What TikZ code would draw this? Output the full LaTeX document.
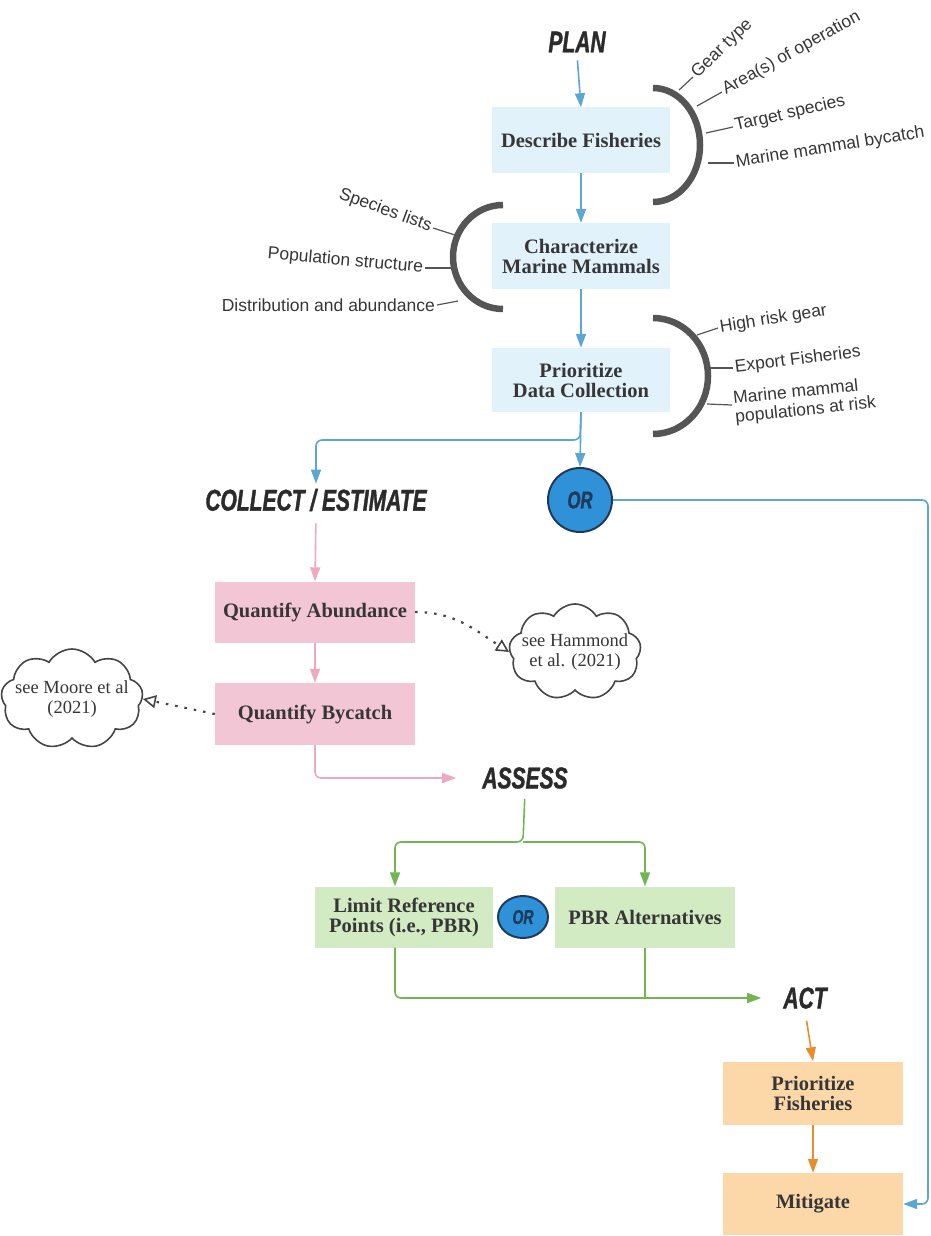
\documentclass[tikz,border=0pt]{standalone}
\usepackage{fontspec}
\setmainfont{Liberation Serif}
\newfontfamily\labelfont{Liberation Sans}
\newfontfamily\headfont[FakeStretch=0.7,FakeBold=1.2]{Liberation Sans}
\usetikzlibrary{arrows.meta,calc,shapes.geometric,shapes.symbols}

\definecolor{planblue}{HTML}{5BA7D3}
\definecolor{planfill}{HTML}{E1F2FA}
\definecolor{collectpink}{HTML}{EDA9C0}
\definecolor{collectfill}{HTML}{F3C6D5}
\definecolor{assessgreen}{HTML}{72B552}
\definecolor{assessfill}{HTML}{D2EBC3}
\definecolor{actorange}{HTML}{E98E2E}
\definecolor{actfill}{HTML}{FCD8A9}
\definecolor{bracketgray}{HTML}{555555}
\definecolor{textgray}{HTML}{363636}
\definecolor{headgray}{HTML}{2B2B2B}
\definecolor{orfill}{HTML}{2F92D8}
\definecolor{ordraw}{HTML}{1E3A5C}
\definecolor{cloudgray}{HTML}{454545}

\tikzset{
  stagebox/.style={minimum width=178pt, minimum height=64pt, inner sep=2pt, align=center, text=textgray, font=\fontsize{20.5}{20}\selectfont\bfseries},
  planbox/.style={stagebox, fill=planfill},
  collectbox/.style={stagebox, fill=collectfill, minimum width=200pt, minimum height=62pt},
  assessbox/.style={stagebox, fill=assessfill},
  actbox/.style={stagebox, fill=actfill, minimum width=180pt, minimum height=62pt},
  heading/.style={font=\headfont\fontsize{30}{30}\selectfont\bfseries\itshape, text=headgray, inner sep=2pt},
  ornode/.style={circle, fill=orfill, draw=ordraw, line width=2pt, inner sep=0pt, text=ordraw, font=\headfont\fontsize{24}{24}\selectfont\bfseries\itshape},
  flow/.style={line width=1.6pt, -{Triangle[length=14pt,width=10pt]}, rounded corners=6pt},
  planflow/.style={flow, draw=planblue},
  collectflow/.style={flow, draw=collectpink},
  assessflow/.style={flow, draw=assessgreen},
  assessline/.style={draw=assessgreen, line width=1.6pt},
  actflow/.style={flow, draw=actorange},
  bracket/.style={draw=bracketgray, line width=6.5pt},
  tick/.style={draw=bracketgray, line width=1.2pt},
  item/.style={font=\labelfont\fontsize{17.5}{19}\selectfont, text=textgray, inner sep=1.5pt},
  cloudshape/.style={cloud, cloud puffs=9, cloud puff arc=120, cloud ignores aspect, draw=cloudgray, line width=1.6pt, fill=white},
  cloudtext/.style={align=center, text=textgray, inner sep=0pt},
  seealso/.style={draw=cloudgray, line width=2.2pt, dash pattern=on 2.5pt off 7pt, -{Triangle[open, length=13pt, width=13pt, line width=1.6pt]}},
}

\begin{document}
\begin{tikzpicture}[x=1pt,y=1pt,yscale=-1,xscale=1]
    \useasboundingbox (0,0) rectangle (930,1236);

    % Headings
    \node[heading] (plan) at (577,42) {PLAN};
    \node[heading] (collect) at (316,500) {COLLECT / ESTIMATE};
    \node[heading] (assess) at (525,778) {ASSESS};
    \node[heading] (act) at (805,998) {ACT};

    % Plan boxes
    \node[planbox, minimum height=65pt] (desc) at (581,140) {Describe Fisheries};
    \node[planbox, minimum height=66pt] (charac) at (581,256) {Characterize\\Marine Mammals};
    \node[planbox] (prio) at (581,380) {Prioritize\\Data Collection};
    \node[ornode, minimum size=64pt] (orbig) at (580,500) {OR};

    % Collect boxes
    \node[collectbox, minimum height=61pt] (qabund) at (315,612) {Quantify Abundance};
    \node[collectbox] (qbyc) at (315,714) {Quantify Bycatch};

    % Clouds
    \node[cloudshape, minimum width=132pt, minimum height=96pt] (hammondcloud) at (575,652) {};
    \node[cloudtext, font=\fontsize{18.5}{20}\selectfont] (hammond) at (575,652) {see Hammond\\et al. (2021)};
    \node[cloudshape, minimum width=142pt, minimum height=100pt] (moorecloud) at (72,699) {};
    \node[cloudtext, font=\fontsize{18.5}{20}\selectfont] (moore) at (72,699) {see Moore et al\\(2021)};

    % Assess boxes
    \node[assessbox, minimum height=61pt] (limit) at (404,917) {Limit Reference\\Points (i.e., PBR)};
    \node[assessbox, minimum width=180pt, minimum height=61pt] (pbralt) at (645,917) {PBR Alternatives};
    \node[ornode, ellipse, minimum width=50pt, minimum height=42pt, font=\headfont\fontsize{20}{20}\selectfont\bfseries\itshape] (orsmall) at (523,917) {OR};

    % Act boxes
    \node[actbox, minimum height=63pt] (prfish) at (813,1093) {Prioritize\\Fisheries};
    \node[actbox] (mitig) at (813,1204) {Mitigate};

    % Brackets
    \draw[bracket] (653,88) arc[start angle=-90, end angle=90, x radius=47, y radius=57];
    \draw[bracket] (503,205) arc[start angle=-90, end angle=-270, x radius=50, y radius=52];
    \draw[bracket] (653,318) arc[start angle=-90, end angle=90, x radius=55, y radius=58];

    % Bracket items: Describe Fisheries
    \draw[tick] (679,90) -- (693,77) node[item, anchor=west, rotate=44] (geartype) {Gear type};
    \draw[tick] (697,106) -- (722,92) node[item, anchor=west, rotate=29] (areaop) {Area(s) of operation};
    \draw[tick] (706,133) -- (733,127) node[item, anchor=west, rotate=13] (target) {Target species};
    \draw[tick] (708,163) -- (734,163) node[item, anchor=west, rotate=9] (mmbycatch) {Marine mammal bycatch};

    % Bracket items: Characterize Marine Mammals
    \draw[tick] (458,236) -- (433,228) node[item, anchor=east, rotate=-20] (splists) {Species lists};
    \draw[tick] (452,268) -- (425,268) node[item, anchor=east, rotate=-5] (popstruct) {Population structure};
    \draw[tick] (458,301) -- (437,305) node[item, anchor=east] (distab) {Distribution and abundance};

    % Bracket items: Prioritize Data Collection
    \draw[tick] (697,335) -- (718,328) node[item, anchor=west, rotate=9] (highrisk) {High risk gear};
    \draw[tick] (709,368) -- (733,368) node[item, anchor=west, rotate=7] (export) {Export Fisheries};
    \draw[tick] (707,404) -- (732,405) node[item, anchor=west, rotate=6, align=left, yshift=-4pt] (atrisk) {Marine mammal\\populations at risk};

    % Plan connectors
    \coordinate (plansplit) at (580,440);
    \coordinate (rtcorner) at (928,500);
    \draw[planflow, shorten <=6pt] (plan.south) -- (desc.north);
    \draw[planflow] (desc.south) -- (charac.north);
    \draw[planflow] (charac.south) -- (prio.north);
    \draw[planflow] (prio.south) -- (orbig.north);
    \draw[planflow] (prio.south) -- (plansplit) -| ([yshift=-3pt]collect.north);
    \draw[planflow] (orbig.east) -- (rtcorner) |- (mitig.east);

    % Collect connectors
    \draw[collectflow, shorten <=10pt] (collect.south) -- (qabund.north);
    \draw[collectflow] (qabund.south) -- (qbyc.north);
    \draw[collectflow] (qbyc.south) |- ([xshift=-24pt]assess.west);
    \draw[seealso] (qabund.east) .. controls (455,612) and (475,630) .. (hammondcloud.west);
    \draw[seealso] (qbyc.west) -- (moorecloud.east);

    % Assess connectors
    \coordinate (assesssplit) at (523,842);
    \draw[assessflow, shorten <=8pt] (assess.south) -- (assesssplit) -| ([xshift=-9pt]limit.north);
    \draw[assessflow] (assesssplit) -| (pbralt.north);
    \draw[assessflow] ([xshift=-9pt]limit.south) |- ([xshift=-20pt]act.west);
    \draw[assessline] (pbralt.south) -- (pbralt.south |- act.west);

    % Act connectors
    \draw[actflow, shorten <=10pt] (act.south) -- (prfish.north);
    \draw[actflow] (prfish.south) -- (mitig.north);

\end{tikzpicture}
\end{document}
